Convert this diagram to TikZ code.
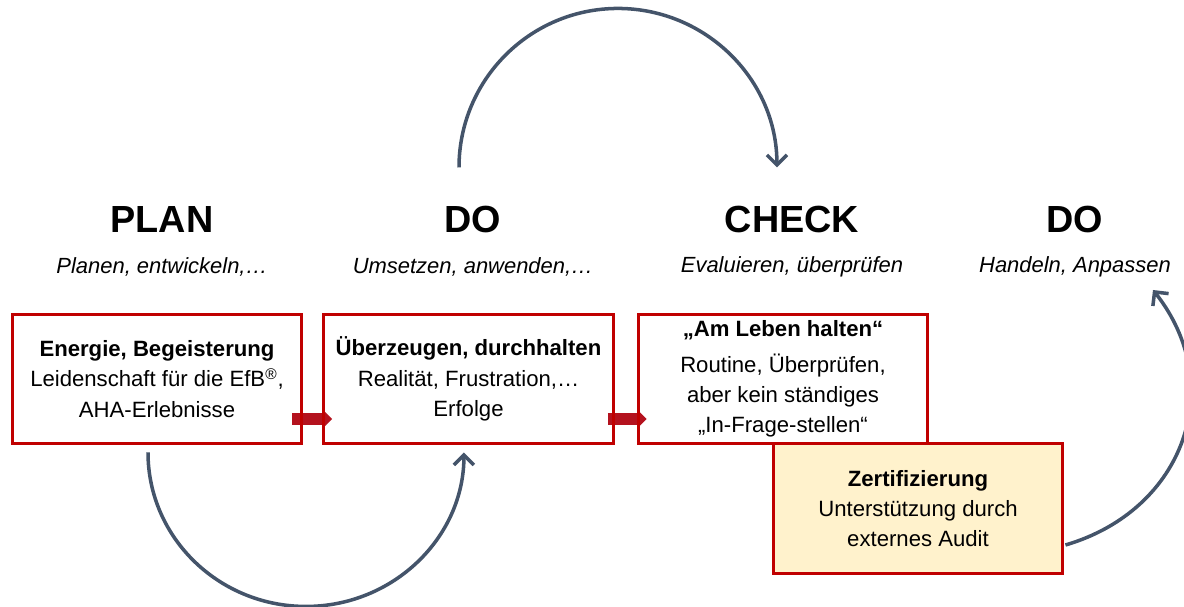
\documentclass[tikz,border=0pt]{standalone}
\usepackage{fontspec}
\setmainfont{Liberation Sans}
\usetikzlibrary{arrows.meta,calc,backgrounds}
\definecolor{boxred}{RGB}{192,0,0}
\definecolor{arrowred}{RGB}{180,18,30}
\definecolor{arcblue}{RGB}{68,84,106}
\definecolor{certfill}{RGB}{255,242,204}

\begin{document}
\begin{tikzpicture}[x=0.02cm,y=-0.02cm,
  phase/.style={font=\fontsize{21.5}{24}\selectfont\bfseries},
  sub/.style={font=\fontsize{12.5}{15}\selectfont\itshape},
  stage/.style={draw=boxred,line width=1.7pt,minimum width=5.8cm,minimum height=2.6cm,
    align=center,inner sep=0pt,font=\fontsize{12.6}{17.3}\selectfont},
  loop/.style={draw=arcblue,line width=2pt,-{Straight Barb[length=2mm,width=4mm]}},
  push/.style={draw=arrowred,line width=0.24cm,-{Triangle[length=0.17cm,width=0.34cm]}}]
  \useasboundingbox (0,0) rectangle (1184,607);

  % headings
  \node[phase] (plan) at (162,220) {PLAN};
  \node[phase] (do1) at (473,220) {DO};
  \node[phase] (check) at (792,220) {CHECK};
  \node[phase] (do2) at (1075,220) {DO};

  \node[sub] (plansub) at (162,267) {Planen, entwickeln,…};
  \node[sub] (do1sub) at (473,267) {Umsetzen, anwenden,…};
  \node[sub] (checksub) at (792,267) {Evaluieren, überprüfen};
  \node[sub] (do2sub) at (1075,267) {Handeln, Anpassen};

  % boxes
  \node[stage] (b1) at (157,379) {\textbf{Energie, Begeisterung}\\Leidenschaft für die EfB\textsuperscript{®},\\AHA-Erlebnisse};
  \node[stage] (b2) at (468.5,379) {\textbf{Überzeugen, durchhalten}\\Realität, Frustration,…\\Erfolge};
  \node[stage] (b3) at (783,379) {\textbf{„Am Leben halten“}\\[3pt]Routine, Überprüfen,\\aber kein ständiges\\„In-Frage-stellen“};
  \node[stage,fill=certfill] (b4) at (918,508.5) {\textbf{Zertifizierung}\\Unterstützung durch\\externes Audit};

  \begin{scope}[on background layer]
    \draw[push] ($(b1.east)+(-11,40)$) -- ($(b2.west)+(10,40)$);
    \draw[push] ($(b2.east)+(-7,40)$) -- ($(b3.west)+(10,40)$);
  \end{scope}

  % loops
  \coordinate (topstart) at ($(do1.north)+(-14,-33)$);
  \coordinate (botstart) at ($(b1.south)+(-9,7)$);
  \coordinate (rightstart) at ($(b4.east)+(1,36.5)$);
  \coordinate (rightend) at ($(do2)+(78,70)$);

  \draw[loop] (topstart) arc[start angle=180,end angle=0,radius=3.18cm];
  \draw[loop] (botstart) arc[start angle=180,end angle=360,x radius=3.16cm,y radius=3.08cm];
  \draw[loop] (rightstart) .. controls (1185,510) and (1228,385) .. (rightend);
\end{tikzpicture}
\end{document}
